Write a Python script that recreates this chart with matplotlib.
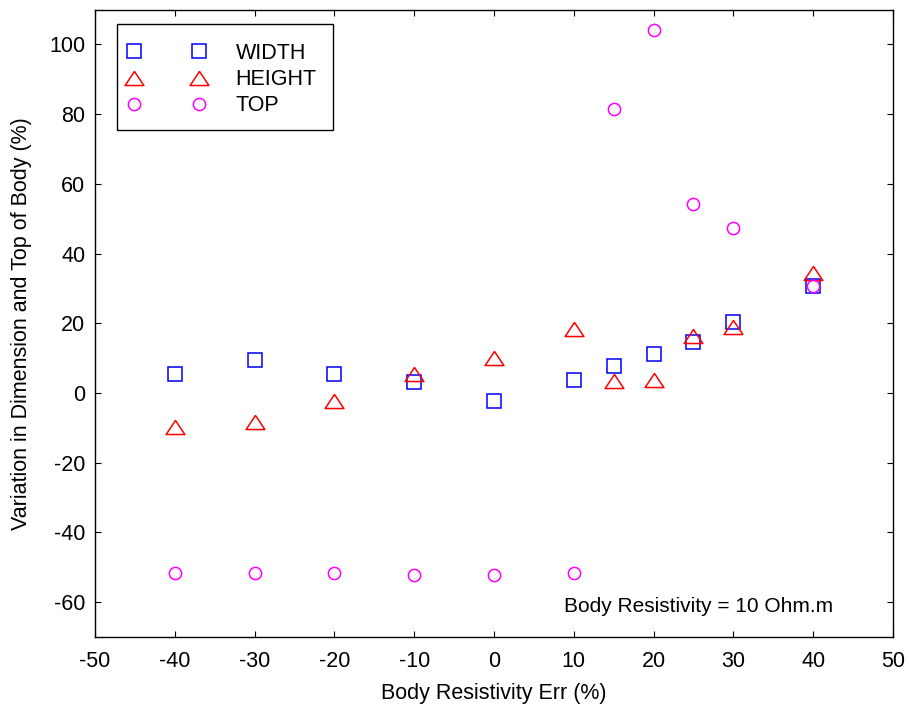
import numpy as np
import matplotlib.pyplot as plt
from matplotlib.patches import Rectangle

plt.rcParams['font.family'] = ['Liberation Sans', 'DejaVu Sans']
plt.rcParams['axes.unicode_minus'] = False

err = [-40, -30, -20, -10, 0, 10, 15, 20, 25, 30, 40]
width = [5.4, 9.5, 5.4, 3.2, -2.3, 3.7, 7.6, 11.1, 14.7, 20.5, 30.7]
height = [-9.8, -8.3, -2.3, 5.3, 10.0, 18.3, 3.3, 3.8, 16.3, 18.9, 34.4]
top = [-51.7, -51.7, -51.7, -52.2, -52.2, -51.7, 81.4, 104.2, 54.2, 47.3, 30.7]

# MATLAB-style triangle, a bit wider than tall
tri = [(0, 0.75), (-1, -0.75), (1, -0.75), (0, 0.75)]

fig = plt.figure(figsize=(9.09, 7.11), dpi=100)
ax = fig.add_axes([0.1045, 0.1041, 0.8779, 0.8825])

ax.plot(err, width, 's', mfc='none', mec='#0000ff', ms=10, mew=1.1, label='WIDTH')
ax.plot(err, height, marker=tri, ls='none', mfc='none', mec='#ff0000', ms=13.5, mew=1.1, label='HEIGHT')
ax.plot(err, top, 'o', mfc='none', mec='#ff00ff', ms=8.8, mew=1.1, label='TOP')

ax.set_xlim(-50, 50)
ax.set_ylim(-70, 110)
ax.set_xticks(np.arange(-50, 51, 10))
ax.set_yticks(np.arange(-60, 101, 20))
ax.tick_params(direction='in', top=True, right=True, labelsize=15.5, length=4.5)
ax.tick_params(axis='x', pad=10)
ax.tick_params(axis='y', pad=7)
for s in ax.spines.values():
    s.set_linewidth(1.0)

ax.set_xlabel('Body Resistivity Err (%)', fontsize=15.5, labelpad=8)
ax.set_ylabel('Variation in Dimension and Top of Body (%)', fontsize=15.5, labelpad=12)

ax.text(0.925, 0.048, 'Body Resistivity = 10 Ohm.m', transform=ax.transAxes,
        ha='right', va='center', fontsize=15)

# legend (old MATLAB look: two markers per entry), frame drawn separately
leg = ax.legend(loc='upper left', numpoints=2, fontsize=15.5, frameon=False,
                borderpad=0.5, borderaxespad=0,
                handlelength=3.6, handletextpad=1.4, labelspacing=0.24,
                bbox_to_anchor=(0.0276, 0.964))
ax.add_patch(Rectangle((0.0276, 0.808), 0.2707, 0.169, transform=ax.transAxes,
                       fill=False, ec='black', lw=1.0, zorder=5))

fig.savefig('out.png', dpi=100)
